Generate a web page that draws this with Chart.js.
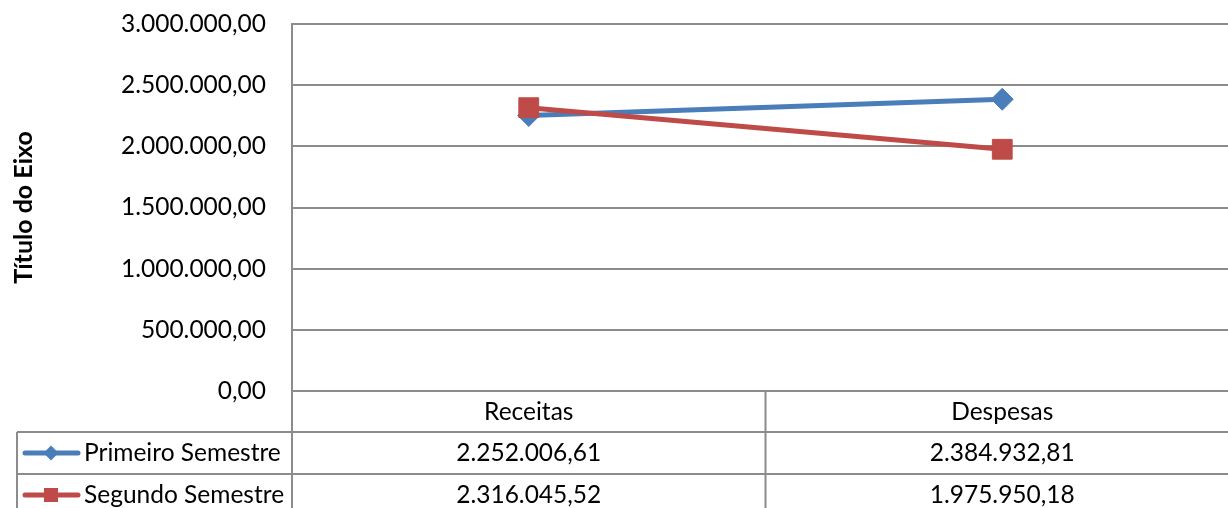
<!DOCTYPE html>
<html>
<head>
<meta charset="utf-8">
<script src="https://cdn.jsdelivr.net/npm/chart.js@4/dist/chart.umd.min.js"></script>
<style>
  html, body { margin: 0; padding: 0; overflow: hidden; background: #fff; }
</style>
</head>
<body>
<canvas id="chart" width="1254" height="520"></canvas>
<script>
// -- data ------------------------------------------------------------------->
const categories = ['Receitas', 'Despesas'];
const seriesNames = ['Primeiro Semestre', 'Segundo Semestre'];
const primeiroSemestre = [2252006.61, 2384932.81];
const segundoSemestre = [2316045.52, 1975950.18];
const yMin = 0;
const yMax = 3000000;
const yStep = 500000;
const axisTitle = 'Título do Eixo';

// -- style ------------------------------------------------------------------>
const FONT = 'Lato, Carlito, Calibri, sans-serif';
const FONT_SIZE = 24.5;
const gridColor = '#8c8c8c';
const blue = '#4A7EBB';
const red = '#BE4B48';

// 1234567.8 -> "1.234.567,80"
function fmt(v) {
    let [int, dec] = v.toFixed(2).split('.');
    int = int.replace(/\B(?=(\d{3})+(?!\d))/g, '.');
    return int + ',' + dec;
}

function marker(ctx, style, x, y, r, color) {
    ctx.fillStyle = color;
    ctx.beginPath();
    if (style === 'rectRot') {
        ctx.moveTo(x, y - r); ctx.lineTo(x + r, y); ctx.lineTo(x, y + r); ctx.lineTo(x - r, y);
        ctx.closePath();
    } else {
        ctx.rect(x - r, y - r, 2 * r, 2 * r);
    }
    ctx.fill();
}

// -- data table under the plot (Excel style) -------------------------------->
const dataTable = {
    id: 'dataTable',
    afterDraw(chart) {
        const { ctx, chartArea: a, scales: { x } } = chart;
        const top = a.bottom;
        const row1 = top + 41;
        const row2 = row1 + 42;
        const end = chart.height;
        const left = 17;
        const step = x.getPixelForValue(1) - x.getPixelForValue(0);

        ctx.save();
        ctx.strokeStyle = gridColor;
        ctx.lineWidth = 2;
        ctx.beginPath();
        [row1, row2].forEach(y => { ctx.moveTo(left, y); ctx.lineTo(a.right, y); });
        ctx.moveTo(left, row1); ctx.lineTo(left, end);
        ctx.moveTo(a.left, top); ctx.lineTo(a.left, end);
        categories.forEach((c, i) => {
            const xb = x.getPixelForValue(i) + step / 2;
            ctx.moveTo(xb, top); ctx.lineTo(xb, end);
        });
        ctx.stroke();

        const rows = [
            { name: seriesNames[0], values: primeiroSemestre, color: blue, style: 'rectRot', r: 7.5, y: (row1 + row2) / 2 },
            { name: seriesNames[1], values: segundoSemestre, color: red, style: 'rect', r: 7, y: row2 + 21 }
        ];
        ctx.font = FONT_SIZE + 'px ' + FONT;
        ctx.textBaseline = 'middle';
        rows.forEach(row => {
            ctx.strokeStyle = row.color;
            ctx.lineWidth = 5;
            ctx.lineCap = 'round';
            ctx.beginPath();
            ctx.moveTo(25, row.y); ctx.lineTo(78, row.y);
            ctx.stroke();
            marker(ctx, row.style, 51, row.y, row.r, row.color);

            ctx.fillStyle = '#000';
            ctx.textAlign = 'left';
            ctx.fillText(row.name, 84, row.y);
            ctx.textAlign = 'center';
            row.values.forEach((v, i) => ctx.fillText(fmt(v), x.getPixelForValue(i), row.y));
        });
        ctx.restore();
    }
};

// -- chart ------------------------------------------------------------------>
new Chart(document.getElementById('chart'), {
    type: 'line',
    data: {
        labels: categories,
        datasets: [
            {
                label: seriesNames[0],
                data: primeiroSemestre,
                borderColor: blue,
                backgroundColor: blue,
                borderWidth: 5,
                pointStyle: 'rectRot',
                pointRadius: 11,
                pointBorderWidth: 1,
                order: 1
            },
            {
                label: seriesNames[1],
                data: segundoSemestre,
                borderColor: red,
                backgroundColor: red,
                borderWidth: 5,
                pointStyle: 'rect',
                pointRadius: 14,
                pointBorderWidth: 1,
                order: 0
            }
        ]
    },
    options: {
        responsive: false,
        animation: false,
        layout: { padding: { left: 0, top: 24, right: 7, bottom: 88 } },
        plugins: {
            legend: { display: false },
            tooltip: { enabled: false }
        },
        scales: {
            x: {
                offset: true,
                grid: { display: false, drawTicks: false },
                border: { display: false },
                ticks: { color: '#000', font: { family: FONT, size: FONT_SIZE }, padding: 6 },
                afterFit: s => { s.height = 41; }
            },
            y: {
                min: yMin,
                max: yMax,
                ticks: {
                    stepSize: yStep,
                    color: '#000',
                    padding: 26,
                    font: { family: FONT, size: FONT_SIZE },
                    callback: v => fmt(v)
                },
                grid: { color: gridColor, lineWidth: 2, drawTicks: false },
                border: { display: true, color: gridColor, width: 2 },
                title: {
                    display: true,
                    text: axisTitle,
                    color: '#000',
                    font: { family: FONT, size: 25, weight: 'bold' },
                    padding: { top: 9, bottom: 0 }
                },
                // fixed axis width; drop the tick-padding the scale adds above/below
                afterFit: s => { s.width = 292; s.paddingTop = 0; s.paddingBottom = 0; }
            }
        }
    },
    plugins: [dataTable]
});
</script>
</body>
</html>
